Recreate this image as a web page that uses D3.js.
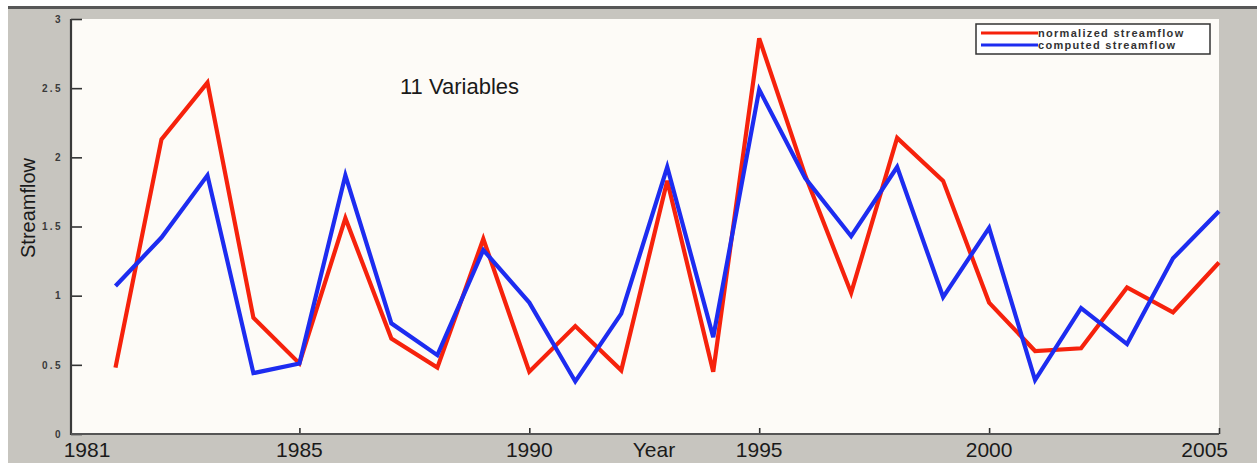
<!DOCTYPE html>
<html>
<head>
<meta charset="utf-8">
<script src="https://cdn.jsdelivr.net/npm/d3@7"></script>
<style>
  html, body { margin: 0; padding: 0; background: #ffffff; }
  svg { display: block; }
</style>
</head>
<body>
<svg id="chart" width="1257" height="463"></svg>
<script>
// Yearly streamflow, 1981–2005
const years = d3.range(1981, 2006);
const normalizedStreamflow = [
  0.48, 2.13, 2.54, 0.84, 0.51, 1.56, 0.69, 0.48, 1.41, 0.45,
  0.78, 0.46, 1.83, 0.45, 2.86, 1.87, 1.02, 2.14, 1.83, 0.95,
  0.60, 0.62, 1.06, 0.88, 1.24
];
const computedStreamflow = [
  1.07, 1.42, 1.87, 0.44, 0.51, 1.87, 0.80, 0.57, 1.33, 0.95,
  0.38, 0.87, 1.93, 0.70, 2.49, 1.85, 1.43, 1.93, 0.99, 1.49,
  0.39, 0.91, 0.65, 1.27, 1.61
];
const yTicks = [0, 0.5, 1, 1.5, 2, 2.5, 3];
const yTickLabels = ["0", "0.5", "1", "1.5", "2", "2.5", "3"];
const xTicks = [1985, 1990, 1995, 2000, 2005];
const xTickLabels = ["1981", "1985", "1990", "1995", "2000", "2005"];
const seriesNames = ["normalized streamflow", "computed streamflow"];
const seriesColors = ["#f6220c", "#1d2cf0"];

const svg = d3.select("#chart");
const W = 1257, H = 463;
const plot = { left: 71, right: 1219, top: 19, bottom: 434 };

// Backdrop: grey window frame with a dark rule along the top
svg.append("rect").attr("width", W).attr("height", H).attr("fill", "#ffffff");
svg.append("rect").attr("x", 8).attr("y", 8).attr("width", W - 8).attr("height", H - 8)
  .attr("fill", "#c7c5bf");
svg.append("rect").attr("x", 8).attr("y", 6).attr("width", W - 8).attr("height", 3)
  .attr("fill", "#575757");

// Plot area
svg.append("rect")
  .attr("x", plot.left).attr("y", plot.top)
  .attr("width", plot.right - plot.left).attr("height", plot.bottom - plot.top)
  .attr("fill", "#fdfbf7");

const x = d3.scaleLinear()
  .domain([1981 - 44.5 / 46, 2005])
  .range([plot.left, plot.right]);
const y = d3.scaleLinear().domain([0, 3]).range([plot.bottom, plot.top]);

// Y axis: ticks point into the plot, small spaced labels
const yAxis = d3.axisRight(y)
  .tickValues(yTicks)
  .tickSize(11)
  .tickFormat((d, i) => yTickLabels[i]);
const gy = svg.append("g").attr("transform", `translate(${plot.left},0)`).call(yAxis);
gy.select(".domain").remove();
gy.selectAll(".tick line").attr("stroke", "#333").attr("stroke-width", 1.6);
gy.selectAll(".tick text")
  .attr("x", -8).attr("text-anchor", "end")
  .attr("font-family", "Liberation Sans, Arial, sans-serif")
  .attr("font-size", 10).attr("font-weight", "bold")
  .attr("letter-spacing", "2.4px")
  .attr("fill", "#3a3a3a");

// X axis: inward tick marks only
const xAxis = d3.axisTop(x).tickValues(xTicks).tickSize(6).tickFormat("");
const gx = svg.append("g").attr("transform", `translate(0,${plot.bottom})`).call(xAxis);
gx.select(".domain").remove();
gx.selectAll(".tick line").attr("stroke", "#333").attr("stroke-width", 1.6);

// Axis lines
svg.append("line")
  .attr("x1", plot.left).attr("x2", plot.left)
  .attr("y1", plot.top).attr("y2", plot.bottom + 1)
  .attr("stroke", "#3a3a3a").attr("stroke-width", 2.2);
svg.append("line")
  .attr("x1", plot.left).attr("x2", plot.right)
  .attr("y1", plot.bottom).attr("y2", plot.bottom)
  .attr("stroke", "#555").attr("stroke-width", 2);

// Large year labels under the axis
const labelFont = "Liberation Sans, Arial, Helvetica, sans-serif";
const labelYears = xTickLabels.map(Number);
svg.append("g").selectAll("text")
  .data(labelYears)
  .join("text")
  .attr("x", (d, i) => i === 0 ? plot.left + 16 : (i === labelYears.length - 1 ? x(d) + 9 : x(d)))
  .attr("y", 457)
  .attr("text-anchor", (d, i) => i === labelYears.length - 1 ? "end" : "middle")
  .attr("font-family", labelFont)
  .attr("font-size", 21)
  .attr("fill", "#1a1a1a")
  .text((d, i) => xTickLabels[i]);

svg.append("text")
  .attr("x", (plot.left + plot.right) / 2 + 9).attr("y", 457)
  .attr("text-anchor", "middle")
  .attr("font-family", labelFont).attr("font-size", 21).attr("fill", "#1a1a1a")
  .text("Year");

svg.append("text")
  .attr("transform", `translate(35,208) rotate(-90)`)
  .attr("text-anchor", "middle")
  .attr("font-family", labelFont).attr("font-size", 20).attr("fill", "#1a1a1a")
  .text("Streamflow");

svg.append("text")
  .attr("x", 400).attr("y", 94)
  .attr("font-family", labelFont).attr("font-size", 22).attr("fill", "#1a1a1a")
  .text("11 Variables");

// Series lines
const line = d3.line().x((d, i) => x(years[i])).y(d => y(d));
[normalizedStreamflow, computedStreamflow].forEach((vals, k) => {
  svg.append("path")
    .datum(vals)
    .attr("d", line)
    .attr("fill", "none")
    .attr("stroke", seriesColors[k])
    .attr("stroke-width", 4.2)
    .attr("stroke-linejoin", "miter")
    .attr("stroke-linecap", "butt");
});

// Legend
const lg = svg.append("g").attr("transform", "translate(976,24)");
lg.append("rect")
  .attr("width", 234).attr("height", 30)
  .attr("fill", "#ffffff").attr("stroke", "#333").attr("stroke-width", 1.5);
seriesNames.forEach((name, k) => {
  const yy = 9 + k * 12;
  lg.append("line")
    .attr("x1", 5).attr("x2", 62).attr("y1", yy).attr("y2", yy)
    .attr("stroke", seriesColors[k]).attr("stroke-width", 3);
  lg.append("text")
    .attr("x", 62).attr("y", yy + 4)
    .attr("font-family", labelFont).attr("font-size", 11).attr("font-weight", "bold")
    .attr("letter-spacing", "1.3px")
    .attr("fill", "#333")
    .text(name);
});
</script>
</body>
</html>
